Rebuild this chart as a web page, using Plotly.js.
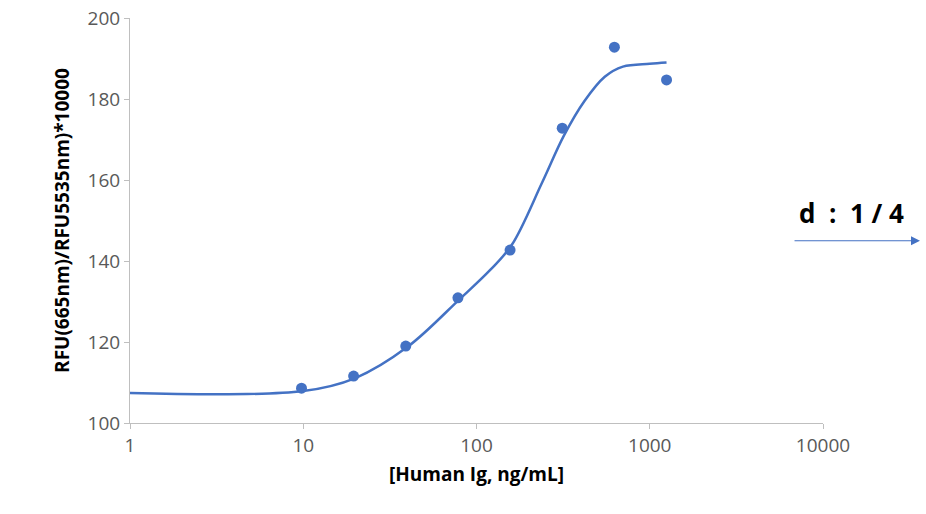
<html><head><script src="https://cdn.plot.ly/plotly-3.0.1.min.js"></script></head><body style="margin:0">
<div id="c" style="width:926px;height:514px"></div>
<script>
const conc=[9.77,19.53,39.06,78.13,156.25,312.5,625,1250];
const rfu=[108.6,111.6,119.0,130.9,142.7,172.8,192.8,184.7];
const fitX=[1,10,20,40,80,120,160,240,320,420,550,700,1000,1250];
const fitY=[107.4,107.9,111.1,118.8,130.6,137.8,144.0,159.5,171.0,179.5,185.5,188.0,188.7,189.0];
const col='#4472C4';
Plotly.newPlot('c',[
 {x:fitX,y:fitY,mode:'lines',line:{color:col,width:2.5,shape:'spline',smoothing:1},hoverinfo:'skip'},
 {x:conc,y:rfu,mode:'markers',marker:{color:col,size:11}}
],{
 width:926,height:514,showlegend:false,plot_bgcolor:'#fff',paper_bgcolor:'#fff',
 margin:{l:130,r:103,t:18,b:91},
 font:{family:'Open Sans, sans-serif',size:19,color:'#595959'},
 xaxis:{type:'log',range:[0,4],tickvals:[1,10,100,1000,10000],ticktext:['1','10','100','1000','10000'],
  showgrid:false,zeroline:false,showline:true,linecolor:'#BFBFBF',ticks:'outside',tickcolor:'#BFBFBF',ticklen:5,
  title:{text:'<b>[Human Ig, ng/mL]</b>',font:{size:19,color:'#000'},standoff:10}},
 yaxis:{range:[100,200],dtick:20,showgrid:false,zeroline:false,showline:true,linecolor:'#BFBFBF',ticks:'outside',tickcolor:'#BFBFBF',ticklen:5,
  title:{text:'<b>RFU(665nm)/RFU5535nm)*10000</b>',font:{size:19,color:'#000'},standoff:12}},
 annotations:[
  {xref:'paper',yref:'paper',x:0.963,y:0.518,text:'<b>d  :  1 / 4</b>',showarrow:false,font:{size:26,color:'#000'},xanchor:'left',yanchor:'middle'},
  {xref:'paper',yref:'paper',x:1.14,y:0.45,ax:-127,ay:0,text:'',showarrow:true,arrowhead:2,arrowsize:1.5,arrowwidth:1.2,arrowcolor:col}
 ]
},{displayModeBar:false});
</script></body></html>
